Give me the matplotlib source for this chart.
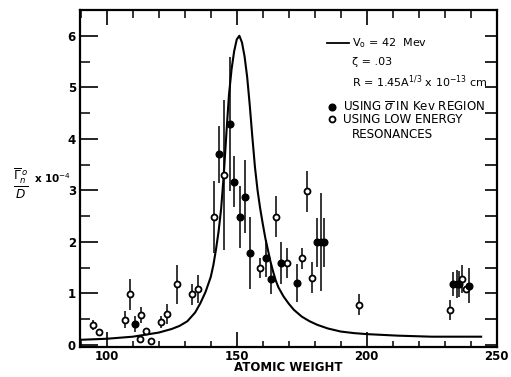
import matplotlib
matplotlib.use('Agg')
import matplotlib.pyplot as plt
from matplotlib.lines import Line2D
from matplotlib.ticker import MultipleLocator, FixedLocator

plt.rcParams['font.family'] = ['DejaVu Sans']
plt.rcParams['mathtext.fontset'] = 'dejavusans'

# theoretical curve (V0 = 42 MeV, zeta = .03)
curve_A = [90, 100, 110, 115, 120, 125, 128, 131, 134, 136, 138, 140, 141, 142, 143,
           144, 145, 146, 147, 148, 149, 150, 151, 152, 153, 154, 155, 156, 157, 158,
           159, 160, 161, 162, 163, 164, 165, 166, 168, 170, 172, 175, 178, 181, 185,
           190, 195, 200, 212, 225, 244]
curve_y = [0.10, 0.12, 0.16, 0.20, 0.24, 0.31, 0.37, 0.46, 0.63, 0.81, 1.03, 1.32, 1.55, 1.85, 2.20,
           2.65, 3.30, 4.10, 4.85, 5.35, 5.70, 5.93, 6.00, 5.87, 5.60, 5.20, 4.65, 4.03, 3.45, 3.00,
           2.65, 2.35, 2.07, 1.84, 1.61, 1.42, 1.25, 1.12, 0.94, 0.80, 0.68, 0.55, 0.46, 0.39, 0.32,
           0.26, 0.23, 0.21, 0.18, 0.16, 0.16]

# open circles: using low energy resonances
open_A = [94.8, 97.0, 107.0, 109.0, 112.8, 113.1, 115.1, 116.9, 121.0, 123.1, 126.9, 132.9,
          135.0, 141.2, 145.0, 159.0, 165.0, 169.2, 175.1, 177.2, 178.8, 182.3, 197.0,
          232.0, 234.6, 236.5, 238.2]
open_y = [0.39, 0.25, 0.49, 0.98, 0.12, 0.58, 0.28, 0.08, 0.44, 0.60, 1.18, 0.98,
          1.09, 2.49, 3.30, 1.49, 2.49, 1.59, 1.68, 2.98, 1.30, 1.99, 0.78,
          0.68, 1.18, 1.28, 1.08]
open_err = [0.10, 0.05, 0.17, 0.30, 0.0, 0.15, 0.0, 0.0, 0.12, 0.20, 0.38, 0.20,
            0.27, 0.70, 1.45, 0.20, 0.40, 0.30, 0.20, 0.40, 0.30, 0.95, 0.20,
            0.20, 0.27, 0.27, 0.0]

# filled circles: using sigma-bar in keV region
filled_A = [111.0, 143.2, 147.3, 149.1, 151.3, 153.2, 155.1, 161.3, 163.2, 167.0, 173.1,
            181.0, 183.6, 233.3, 235.5, 239.2]
filled_y = [0.41, 3.70, 4.29, 3.17, 2.49, 2.88, 1.78, 1.68, 1.28, 1.59, 1.20,
            1.99, 1.99, 1.18, 1.18, 1.15]
filled_err = [0.16, 0.55, 1.30, 0.50, 0.60, 0.70, 0.70, 0.36, 0.30, 0.40, 0.37,
              0.47, 0.47, 0.23, 0.25, 0.34]

x_ticks = [100, 150, 200, 250]
y_ticks = [0, 1, 2, 3, 4, 5, 6]

W, H = 511, 377
fig = plt.figure(figsize=(W / 100, H / 100), dpi=100)
ax = fig.add_axes([80 / W, 1 - 347 / H, (497 - 80) / W, (347 - 10) / H])
ax.set_xlim(89.7, 250.1)
ax.set_ylim(-0.04, 6.5)

ax.plot(curve_A, curve_y, color='black', lw=1.5, zorder=3)
ax.errorbar(open_A, open_y, yerr=open_err, fmt='o', mfc='white', mec='black',
            ecolor='black', elinewidth=1.1, capsize=0, ms=4.3, mew=1.3, zorder=4)
ax.errorbar(filled_A, filled_y, yerr=filled_err, fmt='o', mfc='black', mec='black',
            ecolor='black', elinewidth=1.1, capsize=0, ms=4.8, zorder=4)

for s in ax.spines.values():
    s.set_linewidth(1.6)

ax.xaxis.set_major_locator(FixedLocator(x_ticks))
ax.xaxis.set_minor_locator(MultipleLocator(10))
ax.yaxis.set_major_locator(FixedLocator(y_ticks))
ax.yaxis.set_minor_locator(MultipleLocator(0.5))
ax.tick_params(axis='x', which='major', direction='in', length=11, width=1.2,
               pad=2, labelsize=8.5)
ax.tick_params(axis='x', which='minor', direction='in', length=4, width=1.1)
ax.tick_params(axis='y', which='major', direction='in', length=13, width=1.2,
               pad=3, labelsize=8.5)
ax.tick_params(axis='y', which='minor', direction='in', length=7, width=1.1)
for lab in ax.get_xticklabels() + ax.get_yticklabels():
    lab.set_fontweight('bold')

# top ticks
axt = ax.twiny()
axt.set_xlim(ax.get_xlim())
axt.xaxis.set_major_locator(FixedLocator(x_ticks))
axt.xaxis.set_minor_locator(MultipleLocator(10))
axt.tick_params(axis='x', which='major', direction='in', length=11, width=1.2,
                labeltop=False)
axt.tick_params(axis='x', which='minor', direction='in', length=6, width=1.1)
# right ticks
axr = ax.twinx()
axr.set_ylim(ax.get_ylim())
axr.yaxis.set_major_locator(MultipleLocator(0.5))
axr.yaxis.set_minor_locator(MultipleLocator(0.5))
axr.tick_params(axis='y', which='both', direction='in', length=9, width=1.2,
                labelright=False)
for a in (axt, axr):
    for s in a.spines.values():
        s.set_visible(False)

ax.set_xlabel('ATOMIC WEIGHT', fontsize=8.5, fontweight='bold', labelpad=-1)

def fx(px):
    return px / W

def fy(py):
    return 1 - py / H

# y label
fig.text(fx(21), fy(184), r'$\frac{\overline{\Gamma}_{n}^{\,o}}{D}$', fontsize=12.5,
         ha='center', va='center')
fig.text(fx(34), fy(178), r'x 10$^{-4}$', fontsize=7.5, ha='left', va='center',
         fontweight='bold')

# legend (drawn as text, as in the figure)
tfs = 8
ufs = 8.6
fig.add_artist(Line2D([fx(327), fx(349)], [fy(42.7), fy(42.7)], color='black', lw=1.3))
fig.text(fx(352), fy(42.7), r'V$_{\rm o}$ = 42  Mev', fontsize=tfs, va='center', ha='left')
fig.text(fx(352), fy(62.3), 'ζ = .03', fontsize=tfs, va='center', ha='left')
fig.text(fx(352), fy(82), r'R = 1.45A$^{1/3}$ x 10$^{-13}$ cm', fontsize=tfs,
         va='center', ha='left')
fig.add_artist(Line2D([fx(331.7)], [fy(107.3)], marker='o', ms=4.8, color='black'))
fig.text(fx(342.7), fy(107.3), r'USING $\overline{\sigma}$ IN Kev REGION', fontsize=ufs,
         va='center', ha='left')
fig.add_artist(Line2D([fx(331.7)], [fy(119.3)], marker='o', ms=4.3, mfc='white',
                      mec='black', mew=1.3))
fig.text(fx(342.7), fy(119.8), 'USING LOW ENERGY', fontsize=ufs, va='center', ha='left')
fig.text(fx(351.7), fy(134.5), 'RESONANCES', fontsize=ufs, va='center', ha='left')

fig.savefig('out.png', dpi=100)
